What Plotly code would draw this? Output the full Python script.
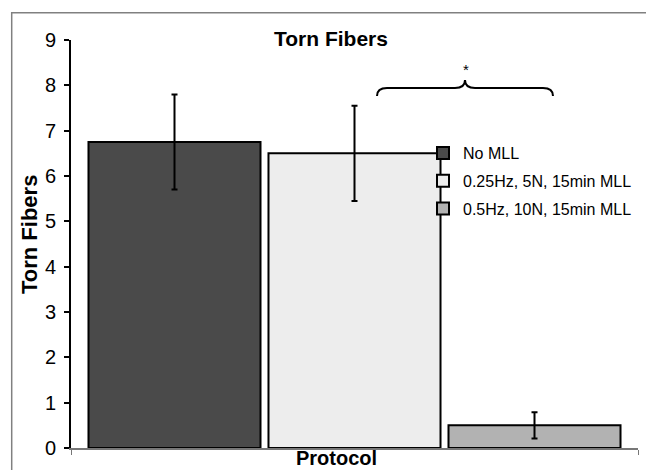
import plotly.graph_objects as go

# ---- data ----
protocols = ["No MLL", "0.25Hz, 5N, 15min MLL", "0.5Hz, 10N, 15min MLL"]
torn_fibers = [6.75, 6.5, 0.5]
errors = [1.05, 1.05, 0.29]
colors = ["#4a4a4a", "#ededed", "#b2b2b2"]
category = ["Protocol"]
y_ticks = [0, 1, 2, 3, 4, 5, 6, 7, 8, 9]

W, H = 646, 470
L, R, T, B = 71, 8, 40, 22
PW, PH = W - L - R, H - T - B

def px(x):
    return (x - L) / PW

def py(y):
    return (H - B - y) / PH

BASE = "Liberation Sans, Arial, sans-serif"

fig = go.Figure()
for name, v, e, c in zip(protocols, torn_fibers, errors, colors):
    fig.add_trace(go.Bar(
        x=category, y=[v], name=name, legendgroup=name,
        marker=dict(color=c, line=dict(color="black", width=2)),
        error_y=dict(type="data", array=[e], color="black", thickness=2, width=3),
    ))

# brace over significant comparison
pts = [(377, 96), (377, 88), (387, 88), (455, 88), (465, 88), (465, 80),
       (465, 88), (475, 88), (543, 88), (553, 88), (553, 96)]
p = [(px(a), py(b)) for a, b in pts]
path = (f"M {p[0][0]},{p[0][1]} Q {p[1][0]},{p[1][1]} {p[2][0]},{p[2][1]} "
        f"L {p[3][0]},{p[3][1]} Q {p[4][0]},{p[4][1]} {p[5][0]},{p[5][1]} "
        f"Q {p[6][0]},{p[6][1]} {p[7][0]},{p[7][1]} L {p[8][0]},{p[8][1]} "
        f"Q {p[9][0]},{p[9][1]} {p[10][0]},{p[10][1]}")

fig.update_layout(
    width=W, height=H,
    margin=dict(l=L, r=R, t=T, b=B),
    paper_bgcolor="white", plot_bgcolor="white",
    font=dict(family=BASE, color="black"),
    barmode="group", bargap=0.0476, bargroupgap=0.0444,
    showlegend=True,
    legend=dict(x=px(423), y=py(136), xanchor="left", yanchor="top",
                font=dict(family=BASE, size=16, color="black"),
                bgcolor="rgba(0,0,0,0)", tracegroupgap=4, itemwidth=30),
    xaxis=dict(type="category", range=[-0.5, 0.5], showticklabels=False,
               showline=True, linecolor="#777777", linewidth=2,
               ticks="outside", tickson="boundaries", ticklen=5, tickcolor="#777777",
               showgrid=False, zeroline=False),
    yaxis=dict(range=[0, 9], tickvals=y_ticks, showline=True, linecolor="black",
               linewidth=2, ticks="outside", ticklen=5, tickcolor="black",
               tickwidth=2, showgrid=False, zeroline=False,
               tickfont=dict(family=BASE, size=20, color="black"),
               ticklabelstandoff=4),
    shapes=[
        dict(type="rect", xref="paper", yref="paper", x0=px(11.7), x1=px(649),
             y0=py(473), y1=py(12.7), line=dict(color="#808080", width=1.5),
             fillcolor="rgba(0,0,0,0)", layer="below"),
        dict(type="path", xref="paper", yref="paper", path=path,
             line=dict(color="black", width=2)),
    ],
    annotations=[
        dict(text="<b>Torn Fibers</b>", xref="paper", yref="paper", x=px(331), y=py(38.5),
             xanchor="center", yanchor="middle", showarrow=False,
             font=dict(family=BASE, size=21, color="black")),
        dict(text="<b>Torn Fibers</b>", xref="paper", yref="paper", x=px(29), y=py(235),
             xanchor="center", yanchor="middle", textangle=-90, showarrow=False,
             font=dict(family=BASE, size=22, color="black")),
        dict(text="<b>Protocol</b>", xref="paper", yref="paper", x=px(336), y=py(458),
             xanchor="center", yanchor="middle", showarrow=False,
             font=dict(family=BASE, size=20, color="black")),
        dict(text="*", xref="paper", yref="paper", x=px(466), y=py(70),
             xanchor="center", yanchor="middle", showarrow=False,
             font=dict(family=BASE, size=15, color="black")),
    ],
)

fig.write_html(
    "out.html",
    config={"displayModeBar": False},
    post_script="document.body.style.margin='0';document.body.style.overflow='hidden';",
)
